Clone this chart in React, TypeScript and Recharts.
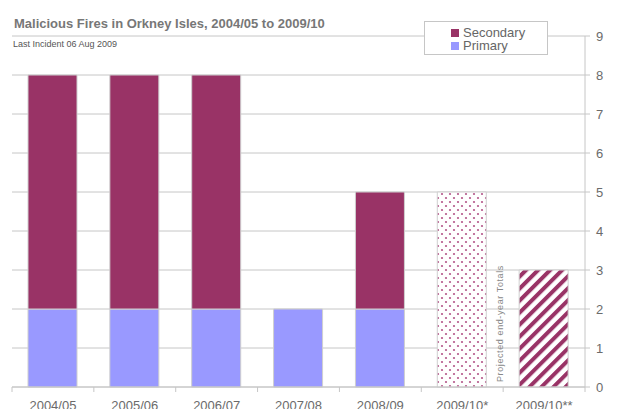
import React from "react";
import { Bar, BarChart, CartesianGrid, Cell, XAxis, YAxis } from "recharts";

const categories = ["2004/05", "2005/06", "2006/07", "2007/08", "2008/09", "2009/10*", "2009/10**"];
const primary = [2, 2, 2, 2, 2, null, null];
const secondary = [6, 6, 6, null, 3, null, null];
const projected = [null, null, null, null, null, 5, 3];
const yTicks = [0, 1, 2, 3, 4, 5, 6, 7, 8, 9];

const W = 621;
const H = 409;
const M = { top: 36, right: 0, bottom: 0, left: 12 };
const Y_W = 36;
const X_H = 22;
const band = (W - M.left - Y_W) / categories.length;

const data = categories.map((c, i) => ({
  name: c,
  primary: primary[i],
  secondary: secondary[i],
  projected: projected[i],
}));

const GRID = "#c6c6c6";
const TEXT = "#6b6b6b";
const FONT = "'Liberation Sans', Arial, sans-serif";

function XTick(props: any) {
  const { x, y, payload, index } = props;
  const last = index === categories.length - 1;
  return (
    <g>
      <line x1={x - band / 2} x2={x - band / 2} y1={y} y2={y + 5} stroke={GRID} />
      {last && <line x1={x + band / 2} x2={x + band / 2} y1={y} y2={y + 5} stroke={GRID} />}
      <text x={x} y={y + 23} textAnchor="middle" fill={TEXT} fontSize={13} fontFamily={FONT}>
        {payload.value}
      </text>
    </g>
  );
}

export default function App() {
  return (
    <div style={{ position: "absolute", left: 0, top: 0, width: W, height: H, background: "#fff", fontFamily: FONT, overflow: "hidden" }}>
      <BarChart width={W} height={H} data={data} margin={M} barSize={49}>
        <defs>
          <pattern id="dots" width="8" height="8" patternUnits="userSpaceOnUse">
            <rect width="8" height="8" fill="#fff" />
            <circle cx="2" cy="2" r="1.1" fill="#b4568a" />
            <circle cx="6" cy="6" r="1.1" fill="#b4568a" />
          </pattern>
          <pattern id="stripes" width="8.5" height="8.5" patternUnits="userSpaceOnUse" patternTransform="rotate(45)">
            <rect width="8.5" height="8.5" fill="#fff" />
            <rect width="4" height="8.5" fill="#993366" />
          </pattern>
        </defs>
        <CartesianGrid stroke={GRID} vertical={false} />
        <XAxis
          dataKey="name"
          height={X_H}
          axisLine={{ stroke: GRID }}
          tickLine={false}
          tickSize={0}
          tickMargin={0}
          interval={0}
          tick={<XTick />}
        />
        <YAxis yAxisId="left" orientation="left" width={0} tick={false} axisLine={{ stroke: GRID }} domain={[0, 9]} />
        <YAxis
          orientation="right"
          domain={[0, 9]}
          ticks={yTicks}
          interval={0}
          width={Y_W}
          tickSize={5}
          tickMargin={6}
          axisLine={{ stroke: GRID }}
          tickLine={{ stroke: GRID }}
          tick={{ fill: TEXT, fontSize: 13, fontFamily: FONT, textAnchor: "start" }}
        />
        <Bar dataKey="primary" stackId="a" fill="#9999FF" stroke="#cfcfcf" isAnimationActive={false} />
        <Bar dataKey="secondary" stackId="a" fill="#993366" stroke="#cfcfcf" isAnimationActive={false} />
        <Bar dataKey="projected" stackId="a" stroke="#cfcfcf" isAnimationActive={false}>
          {data.map((d, i) => (
            <Cell key={d.name} fill={i === 5 ? "url(#dots)" : "url(#stripes)"} />
          ))}
        </Bar>
      </BarChart>

      <div style={{ position: "absolute", left: 14, top: 16, fontSize: 13, fontWeight: "bold", color: "#777", whiteSpace: "nowrap" }}>
        Malicious Fires in Orkney Isles, 2004/05 to 2009/10
      </div>
      <div style={{ position: "absolute", left: 13, top: 39, fontSize: 9, color: "#555", whiteSpace: "nowrap" }}>
        Last Incident 06 Aug 2009
      </div>

      <div
        style={{
          position: "absolute",
          left: 424,
          top: 21,
          width: 122,
          height: 32,
          background: "#fff",
          border: "1px solid #c6c6c6",
          fontSize: 13,
          color: "#666",
          lineHeight: "13px",
        }}
      >
        {[
          { label: "Secondary", color: "#993366" },
          { label: "Primary", color: "#9999FF" },
        ].map((item, i) => (
          <div key={item.label} style={{ position: "absolute", left: 26, top: 4 + i * 13, whiteSpace: "nowrap" }}>
            <span style={{ display: "inline-block", width: 8, height: 8, background: item.color, marginRight: 4 }} />
            {item.label}
          </div>
        ))}
      </div>

      <div
        style={{
          position: "absolute",
          left: 495,
          top: 382,
          transform: "rotate(-90deg)",
          transformOrigin: "0 0",
          fontSize: 9,
          letterSpacing: 0.6,
          color: "#888",
          whiteSpace: "nowrap",
          lineHeight: "10px",
        }}
      >
        Projected end-year Totals
      </div>
    </div>
  );
}
